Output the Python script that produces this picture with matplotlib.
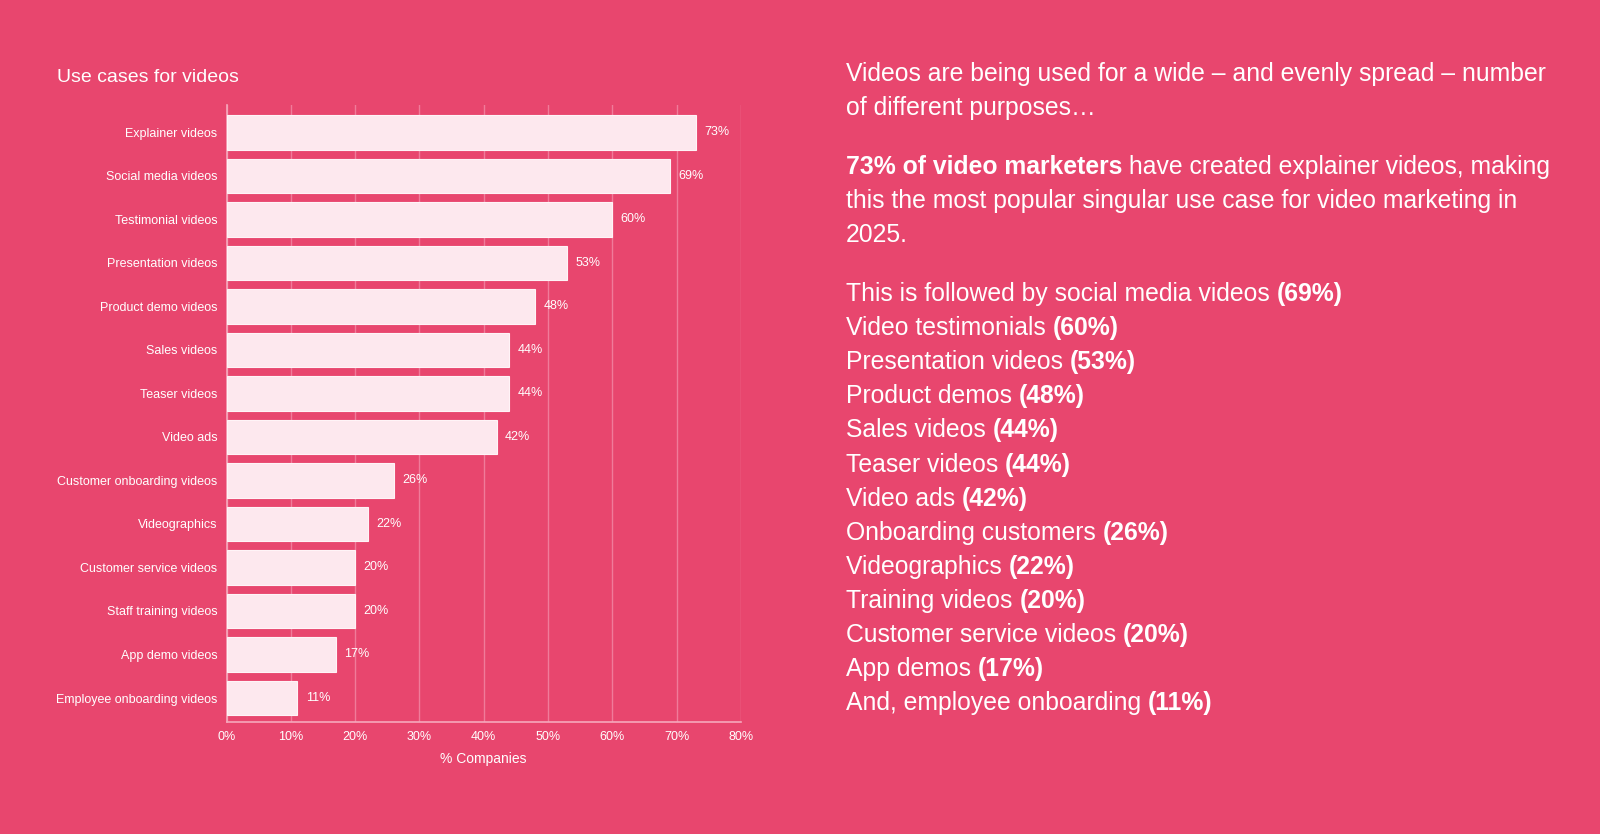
import matplotlib
matplotlib.use("Agg")
import matplotlib.pyplot as plt

plt.rcParams['font.family'] = ['Liberation Sans', 'DejaVu Sans']

BG = '#E8466E'
BAR = '#FDE8EE'
GRID = '#F07B9A'
WHITE = '#FFFFFF'

# data
categories = ['Explainer videos', 'Social media videos', 'Testimonial videos', 'Presentation videos',
              'Product demo videos', 'Sales videos', 'Teaser videos', 'Video ads',
              'Customer onboarding videos', 'Videographics', 'Customer service videos',
              'Staff training videos', 'App demo videos', 'Employee onboarding videos']
values = [73, 69, 60, 53, 48, 44, 44, 42, 26, 22, 20, 20, 17, 11]
x_ticks = [0, 10, 20, 30, 40, 50, 60, 70, 80]

# right-hand text: paragraphs of lines, each line a list of (text, bold)
paragraphs = [
    [[('Videos are being used for a wide \u2013 and evenly spread \u2013 number', False)],
     [('of different purposes\u2026', False)]],
    [[('73% of video marketers', True), (' have created explainer videos, making', False)],
     [('this the most popular singular use case for video marketing in', False)],
     [('2025.', False)]],
    [[('This is followed by social media videos ', False), ('(69%)', True)],
     [('Video testimonials ', False), ('(60%)', True)],
     [('Presentation videos ', False), ('(53%)', True)],
     [('Product demos ', False), ('(48%)', True)],
     [('Sales videos ', False), ('(44%)', True)],
     [('Teaser videos ', False), ('(44%)', True)],
     [('Video ads ', False), ('(42%)', True)],
     [('Onboarding customers ', False), ('(26%)', True)],
     [('Videographics ', False), ('(22%)', True)],
     [('Training videos ', False), ('(20%)', True)],
     [('Customer service videos ', False), ('(20%)', True)],
     [('App demos ', False), ('(17%)', True)],
     [('And, employee onboarding ', False), ('(11%)', True)]],
]

W, H = 1600, 834
fig = plt.figure(figsize=(16, 8.34), dpi=100, facecolor=BG)

# chart
ax = fig.add_axes([226.5 / W, 1 - 721.5 / H, (741 - 226.5) / W, (721.5 - 105) / H])
ax.set_facecolor(BG)
y = list(range(len(categories)))
ax.barh(y, values, height=0.8, color=BAR, edgecolor='#FFF4F7', linewidth=0.8, zorder=3)
for yi, v in zip(y, values):
    ax.text(v + 1.3, yi, f'{v}%', va='center', ha='left', color=WHITE, fontsize=9, zorder=4)

ax.set_ylim(len(categories) - 0.46, -0.63)
ax.set_yticks(y)
ax.set_yticklabels(categories)
ax.set_xlim(0, 80)
ax.set_xticks(x_ticks)
ax.set_xticklabels([f'{t}%' for t in x_ticks])
ax.tick_params(axis='y', length=0, pad=6.5, colors=WHITE, labelsize=9)
ax.tick_params(axis='x', length=0, pad=7, colors=WHITE, labelsize=9)
ax.grid(axis='x', color=GRID, linewidth=1, zorder=0)
for side in ['top', 'right']:
    ax.spines[side].set_visible(False)
for side in ['left', 'bottom']:
    ax.spines[side].set_color('#F6A8BC')
    ax.spines[side].set_linewidth(1.2)
ax.set_xlabel('% Companies', color=WHITE, fontsize=10, labelpad=6)

fig.text(57 / W, 1 - 78 / H, 'Use cases for videos', color=WHITE, fontsize=14, va='center', ha='left')

# right text with mixed weights
renderer = fig.canvas.get_renderer()
line_h = 34.1
para_gap = 25.0
ypix = 73.5
x0 = 846
for para in paragraphs:
    for line in para:
        xpix = x0
        for seg, bold in line:
            t = fig.text(xpix / W, 1 - ypix / H, seg, color=WHITE, fontsize=17.8,
                         fontweight='bold' if bold else 'normal', va='center', ha='left')
            bb = t.get_window_extent(renderer)
            xpix = bb.x1
        ypix += line_h
    ypix += para_gap

fig.savefig('out.png', dpi=100, facecolor=BG)
